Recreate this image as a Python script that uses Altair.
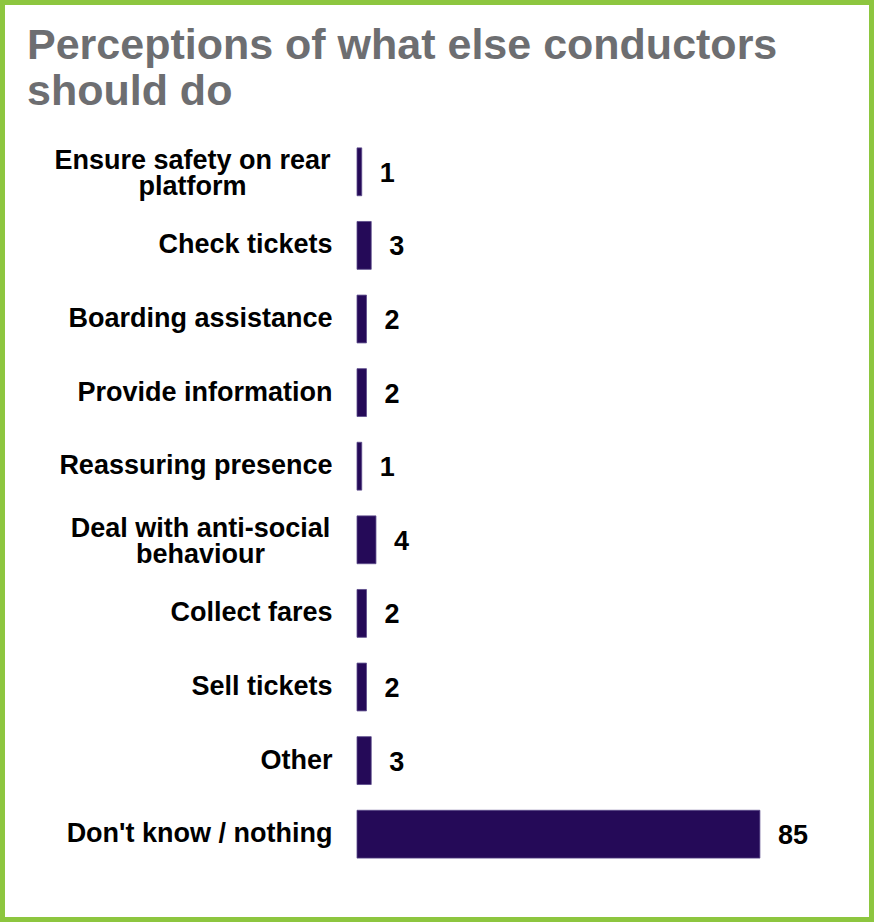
import altair as alt
import pandas as pd

categories = [
    "Ensure safety on rear platform",
    "Check tickets",
    "Boarding assistance",
    "Provide information",
    "Reassuring presence",
    "Deal with anti-social behaviour",
    "Collect fares",
    "Sell tickets",
    "Other",
    "Don't know / nothing",
]
values = [1, 3, 2, 2, 1, 4, 2, 2, 3, 85]

df = pd.DataFrame({"category": categories, "value": values})

FONT = "Liberation Sans"
BAR = "#250A58"
GREEN = "#8DC63F"

label_expr = (
    "datum.label == 'Ensure safety on rear platform' ? ['Ensure safety on rear', 'platform'] : "
    "datum.label == 'Deal with anti-social behaviour' ? ['Deal with anti-social', 'behaviour'] : datum.label"
)
test_ensure = "datum.value == 'Ensure safety on rear platform'"
test_deal = "datum.value == 'Deal with anti-social behaviour'"
two_line_test = test_ensure + " || " + test_deal

y_enc = alt.Y(
    "category:N",
    sort=categories,
    scale=alt.Scale(paddingInner=0.35, paddingOuter=0.175),
    axis=alt.Axis(
        title=None,
        domain=False,
        ticks=False,
        labelFont=FONT,
        labelFontSize=27,
        labelFontWeight="bold",
        labelColor="#000000",
        labelLimit=0,
        labelLineHeight=26,
        labelExpr=label_expr,
        labelAlign={"condition": {"test": two_line_test, "value": "center"}, "value": "right"},
        labelPadding={"condition": [{"test": test_ensure, "value": 165},
                                    {"test": test_deal, "value": 157}], "value": 25},
        labelOffset={"condition": {"test": two_line_test, "value": -11}, "value": 0},
    ),
)

x_enc = alt.X("value:Q", scale=alt.Scale(domain=[0, 100]), axis=None)

bars = alt.Chart(df).mark_bar(color=BAR, stroke="#5B4A8A", strokeWidth=0.8).encode(x=x_enc, y=y_enc)

texts = alt.Chart(df).mark_text(
    align="left", baseline="middle", dx=18, dy=2,
    font=FONT, fontSize=27, fontWeight="bold", color="#000000",
).encode(x=x_enc, y=alt.Y("category:N", sort=categories), text="value:Q")

border = alt.Chart(alt.Data(values=[{"b": 1}])).mark_rect(
    fill="transparent", stroke=GREEN, strokeWidth=5
).encode(
    x=alt.value(-354.5), x2=alt.value(514.5),
    y=alt.value(-132.5), y2=alt.value(784.5),
)

chart = alt.layer(border, bars, texts).properties(
    width=474,
    height=736,
    autosize=alt.AutoSizeParams(type="none"),
    padding={"left": 357, "top": 135, "right": 43, "bottom": 51},
    title=alt.TitleParams(
        text=["Perceptions of what else conductors", "should do"],
        anchor="start",
        frame="group",
        font=FONT,
        fontSize=43,
        fontWeight="bold",
        color="#6D6E71",
        lineHeight=46,
        baseline="alphabetic",
        dx=-330,
        dy=148,
        offset=0,
    ),
).configure(background="white").configure_view(stroke="transparent", strokeWidth=0)

chart.save("out.html", embed_options={"renderer": "svg", "actions": False})
